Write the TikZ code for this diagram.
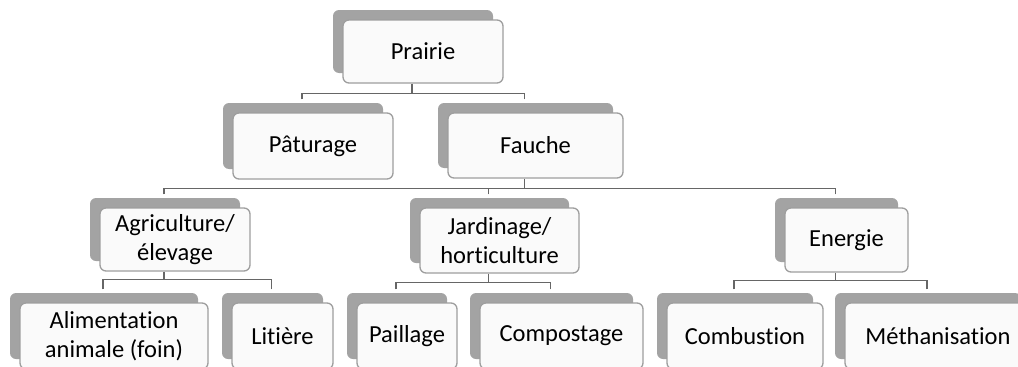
\documentclass[tikz,border=0pt]{standalone}
\usepackage{fontspec}
\setmainfont[Ligatures={NoCommon}]{Carlito}
\usetikzlibrary{shadows}
\begin{document}
\begin{tikzpicture}[x=1pt,y=-1pt,
  card/.style={rectangle, rounded corners=6pt, draw=black!38, line width=1.3pt,
    fill=black!2, inner sep=2pt, align=center, text=black,
    font=\fontsize{24.5}{28.5}\selectfont,
    general shadow={fill=black!36, shadow xshift=-10pt, shadow yshift=10pt}},
  link/.style={draw=black!60, line width=1.5pt}]
\useasboundingbox (0,0) rectangle (1018,367);
\clip (0,0) rectangle (1018,367);

% nodes
\node[card, minimum width=160pt, minimum height=63pt] (prairie) at (423,51.5) {Prairie};
\node[card, minimum width=160pt, minimum height=66pt] (paturage) at (313,146) {Pâturage};
\node[card, minimum width=175pt, minimum height=65pt] (fauche) at (535.5,145.5) {Fauche};
\node[card, minimum width=150pt, minimum height=63pt] (agri) at (175,239.5) {Agriculture/\\élevage};
\node[card, minimum width=159pt, minimum height=65pt] (jardin) at (499.5,240.5) {Jardinage/\\horticulture};
\node[card, minimum width=123pt, minimum height=64pt] (energie) at (846.5,240) {Energie};
\node[card, minimum width=188pt, minimum height=66pt] (alim) at (114,336) {Alimentation\\animale (foin)};
\node[card, minimum width=101pt, minimum height=66pt] (litiere) at (282.5,336) {Litière};
\node[card, minimum width=100pt, minimum height=66pt] (paillage) at (407,336) {Paillage};
\node[card, minimum width=163pt, minimum height=66pt] (compost) at (561.5,336) {Compostage};
\node[card, minimum width=156pt, minimum height=66pt] (combust) at (745,336) {Combustion};
\node[card, minimum width=186pt, minimum height=66pt] (metha) at (938,336) {Méthanisation};

% connectors
\path ([xshift=-11pt]prairie.south) ++(0,10) coordinate (b1);
\draw[link] ([xshift=-11pt]prairie.south) -- (b1);
\draw[link] ([xshift=-11pt,yshift=13pt]paturage.north) |- (b1);
\draw[link] ([xshift=-11pt,yshift=13pt]fauche.north) |- (b1);

\path ([xshift=-11pt]fauche.south) ++(0,10) coordinate (b2);
\draw[link] ([xshift=-11pt]fauche.south) -- (b2);
\draw[link] ([xshift=-11pt,yshift=13pt]agri.north) |- (b2);
\draw[link] ([xshift=-11pt,yshift=13pt]jardin.north) |- (b2);
\draw[link] ([xshift=-11pt,yshift=13pt]energie.north) |- (b2);

\path ([xshift=-11pt]agri.south) ++(0,8) coordinate (b3);
\draw[link] ([xshift=-11pt]agri.south) -- (b3);
\draw[link] ([xshift=-11pt,yshift=13pt]alim.north) |- (b3);
\draw[link] ([xshift=-11pt,yshift=13pt]litiere.north) |- (b3);

\path ([xshift=-11pt]jardin.south) ++(0,9) coordinate (b4);
\draw[link] ([xshift=-11pt]jardin.south) -- (b4);
\draw[link] ([xshift=-11pt,yshift=13pt]paillage.north) |- (b4);
\draw[link] ([xshift=-11pt,yshift=13pt]compost.north) |- (b4);

\path ([xshift=-11pt]energie.south) ++(0,8) coordinate (b5);
\draw[link] ([xshift=-11pt]energie.south) -- (b5);
\draw[link] ([xshift=-11pt,yshift=13pt]combust.north) |- (b5);
\draw[link] ([xshift=-11pt,yshift=13pt]metha.north) |- (b5);
\end{tikzpicture}
\end{document}
